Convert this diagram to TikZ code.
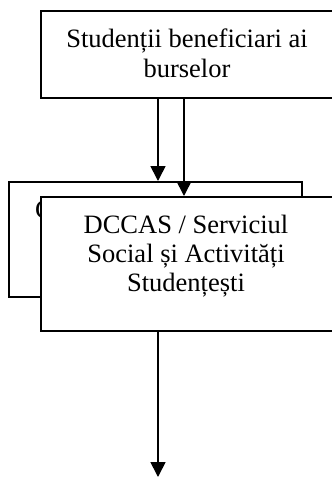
\documentclass[tikz,border=0pt]{standalone}
\usepackage{fontspec}
\setmainfont{Liberation Serif}
\usetikzlibrary{arrows.meta}
\begin{document}
\begin{tikzpicture}[x=1pt,y=-1pt,
 box/.style={draw,line width=1.7pt,fill=white,rectangle,inner sep=0pt,anchor=north west},
 txt/.style={font=\fontsize{26.5}{29}\selectfont,align=center,inner sep=0pt},
 arr/.style={line width=1.7pt,-{Triangle[width=15pt,length=15pt]}}]
\useasboundingbox (0,0) rectangle (332,477);
\clip (0,0) rectangle (332,477);
\node[box,minimum width=293pt,minimum height=115pt] (back) at (8,181) {};
\node[txt,anchor=base west] (backtxt) at (35,218) {C};
\node[box,minimum width=294pt,minimum height=134pt] (front) at (40,196) {};
\node[txt,anchor=base] (f1) at (186,233) {DCCAS / Serviciul};
\node[txt,anchor=base] (f2) at (186,262) {Social și Activități};
\node[txt,anchor=base] (f3) at (186,291) {Studențești};
\node[box,minimum width=294pt,minimum height=87pt] (top) at (40,10) {};
\node[txt,anchor=base] (t1) at (187,47) {Studenții beneficiari ai};
\node[txt,anchor=base] (t2) at (187,77) {burselor};
\coordinate (c1) at (158,0);
\coordinate (c2) at (184,0);
\coordinate (end) at (158,477);
\draw[arr] (top.south -| c1) -- (back.north -| c1);
\draw[arr] (top.south -| c2) -- (front.north -| c2);
\draw[arr] (front.south -| c1) -- (end);
\end{tikzpicture}
\end{document}
